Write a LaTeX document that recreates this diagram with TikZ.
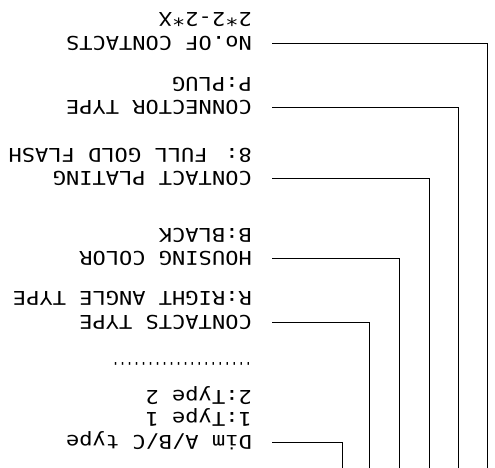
\documentclass[tikz,border=0pt]{standalone}
\usepackage{fontspec}
\newfontfamily\cadfont[FakeStretch=1.16]{DejaVu Sans Mono}
\newfontfamily\dotfont[FakeStretch=0.61]{DejaVu Sans Mono}
\usetikzlibrary{positioning}
\tikzset{
  hd/.style={inner sep=0pt, anchor=west, text height=13.8pt, text depth=0pt,
    font=\cadfont\fontsize{19}{22}\selectfont},
  val/.style={inner sep=0pt, anchor=base west,
    font=\cadfont\fontsize{19}{22}\selectfont},
  wire/.style={line width=0.9pt}
}

\begin{document}
\begin{tikzpicture}[x=1pt,y=1pt]
\useasboundingbox (0,0) rectangle (495,468);
\begin{scope}[rotate around={180:(247.5,234)}, transform shape]
  % fields of the part number
  \node[hd] (nocont) at (243,43) {No.OF CONTACTS};
  \node[val] (nocontv) at ([yshift=-24pt]nocont.base west) {2*2-2*X};
  \node[hd] (contype) at (243,107) {CONNECTOR TYPE};
  \node[val] (contypev) at ([yshift=-23pt]contype.base west) {P:PLUG};
  \node[hd] (plating) at (243,178) {CONTACT PLATING};
  \node[val] (platingv) at ([yshift=-23pt]plating.base west) {8: FULL GOLD FLASH};
  \node[hd] (housing) at (243,258) {HOUSING COLOR};
  \node[val] (housingv) at ([yshift=-23pt]housing.base west) {B:BLACK};
  \node[hd] (ctype) at (243,322) {CONTACTS TYPE};
  \node[val] (ctypev) at ([yshift=-24pt]ctype.base west) {R:RIGHT ANGLE TYPE};
  \node[hd] (dim) at (243,442) {Dim A/B/C type};
  \node[val] (dimva) at ([yshift=-23pt]dim.base west) {1:Type 1};
  \node[val] (dimvb) at ([yshift=-22pt]dimva.base west) {2:Type 2};
  \node[val, font=\dotfont\fontsize{19}{22}\selectfont] (dimdots)
    at ([yshift=-28pt]dimvb.base west) {....................};

  % top ends of the leaders
  \coordinate (topA) at (8,468);
  \coordinate (topB) at (37,468);
  \coordinate (topC) at (66,468);
  \coordinate (topD) at (96,468);
  \coordinate (topE) at (126,468);
  \coordinate (topF) at (153,468);

  \draw[wire] (nocont.west) ++(-20,0) -| (topA);
  \draw[wire] (contype.west) ++(-20,0) -| (topB);
  \draw[wire] (plating.west) ++(-20,0) -| (topC);
  \draw[wire] (housing.west) ++(-20,0) -| (topD);
  \draw[wire] (ctype.west) ++(-20,0) -| (topE);
  \draw[wire] (dim.west) ++(-20,0) -| (topF);
\end{scope}
\end{tikzpicture}
\end{document}
